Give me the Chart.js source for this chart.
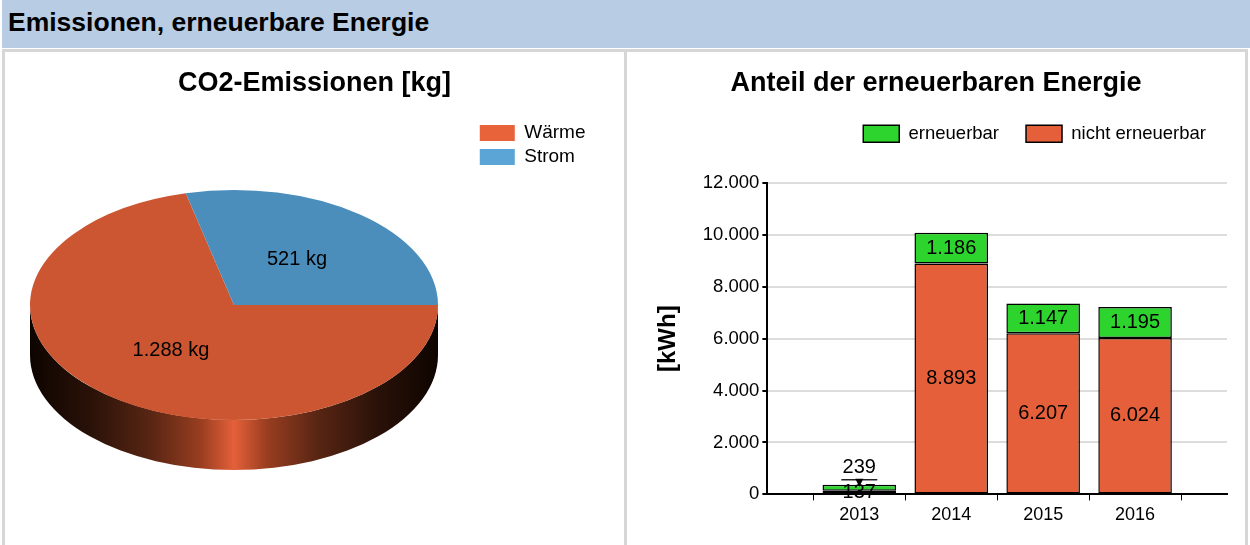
<!DOCTYPE html>
<html lang="de">
<head>
<meta charset="utf-8">
<title>Emissionen, erneuerbare Energie</title>
<script src="https://cdn.jsdelivr.net/npm/chart.js@4.4.1/dist/chart.umd.min.js"></script>
<style>
  body {
    margin: 0;
    width: 1250px;
    height: 545px;
    overflow: hidden;
    background: #fff;
    position: relative;
    font-family: "Liberation Sans", Arial, sans-serif;
  }
  #header {
    position: absolute;
    left: 2px;
    top: 0;
    width: 1248px;
    height: 48px;
    background: #b8cce4;
  }
  #header h1 {
    margin: 0;
    padding-left: 6px;
    font-size: 26.5px;
    font-weight: bold;
    line-height: 45px;
    color: #000;
  }
  #panels {
    position: absolute;
    left: 2px;
    top: 49px;
    width: 1246px;
    height: 520px;
    border: 3px solid #d6d6d6;
    box-sizing: border-box;
  }
  #divider {
    position: absolute;
    left: 624px;
    top: 49px;
    width: 3px;
    height: 520px;
    background: #d6d6d6;
  }
  canvas {
    position: absolute;
    top: 52px;
  }
  #co2-chart { left: 5px; }
  #energy-chart { left: 627px; }
</style>
</head>
<body>
<div id="header"><h1>Emissionen, erneuerbare Energie</h1></div>
<div id="panels"></div>
<div id="divider"></div>
<canvas id="co2-chart" width="619" height="493"></canvas>
<canvas id="energy-chart" width="618" height="493"></canvas>

<script>
// CO2-Emissionen [kg]
const pieLabels = ['Wärme', 'Strom'];
const pieValues = [1288, 521];
const pieColors = ['#cc5631', '#4b8ebb'];
const pieLegendColors = ['#e8623a', '#5aa4d6'];

// Anteil der erneuerbaren Energie [kWh]
const years = ['2013', '2014', '2015', '2016'];
const nichtErneuerbar = [137, 8893, 6207, 6024];
const erneuerbar = [239, 1186, 1147, 1195];
const yMax = 12000;
const yStep = 2000;

const FONT = '"Liberation Sans", Arial, sans-serif';
Chart.defaults.font.family = FONT;
Chart.defaults.color = '#000';

// 1234 -> "1.234"
function formatDe(v) {
  return String(Math.round(v)).replace(/\B(?=(\d{3})+(?!\d))/g, '.');
}

/**
 * Pseudo-3D pie: squashes the arcs into an ellipse and paints the side wall first
 */
const pie3dTarget = { cx: 229, cy: 253, rx: 204, ry: 115, depth: 50 };

const pie3d = {
  id: 'pie3d',
  beforeDatasetsDraw(chart) {
    const arc = chart.getDatasetMeta(0).data[0];
    if (!arc) return;
    const ctx = chart.ctx;
    const t = pie3dTarget;

    const g = ctx.createLinearGradient(t.cx - t.rx, 0, t.cx + t.rx, 0);
    g.addColorStop(0, '#0e0400');
    g.addColorStop(0.15, '#2a1208');
    g.addColorStop(0.3, '#5a2614');
    g.addColorStop(0.42, '#9a3e20');
    g.addColorStop(0.5, '#e4603a');
    g.addColorStop(0.58, '#9a3e20');
    g.addColorStop(0.7, '#5a2614');
    g.addColorStop(0.85, '#2a1208');
    g.addColorStop(1, '#0e0400');

    ctx.save();
    ctx.beginPath();
    ctx.moveTo(t.cx - t.rx, t.cy);
    ctx.ellipse(t.cx, t.cy + t.depth, t.rx, t.ry, 0, Math.PI, 0, true);
    ctx.lineTo(t.cx + t.rx, t.cy);
    ctx.ellipse(t.cx, t.cy, t.rx, t.ry, 0, 0, Math.PI, false);
    ctx.closePath();
    ctx.fillStyle = g;
    ctx.fill();
    ctx.restore();

    // squash the circle into the top face
    ctx.save();
    ctx.translate(t.cx, t.cy);
    ctx.scale(t.rx / arc.outerRadius, t.ry / arc.outerRadius);
    ctx.translate(-arc.x, -arc.y);
  },
  afterDatasetsDraw(chart) {
    const ctx = chart.ctx;
    ctx.restore();

    const t = pie3dTarget;
    const meta = chart.getDatasetMeta(0);
    ctx.save();
    ctx.font = '20px ' + FONT;
    ctx.fillStyle = '#000';
    ctx.textAlign = 'center';
    ctx.textBaseline = 'middle';
    meta.data.forEach((arc, i) => {
      const p = arc.tooltipPosition();
      const x = t.cx + (p.x - arc.x) * t.rx / arc.outerRadius;
      const y = t.cy + (p.y - arc.y) * t.ry / arc.outerRadius;
      ctx.fillText(formatDe(pieValues[i]) + ' kg', x, y);
    });
    ctx.restore();
  }
};

/**
 * Value labels inside the stacked bars (small top segments get a label with arrow above)
 */
const barValueLabels = {
  id: 'barValueLabels',
  afterDatasetsDraw(chart) {
    const ctx = chart.ctx;
    const last = chart.data.datasets.length - 1;
    ctx.save();
    ctx.font = '20px ' + FONT;
    ctx.fillStyle = '#000';
    ctx.strokeStyle = '#222';
    ctx.textAlign = 'center';
    ctx.textBaseline = 'middle';
    chart.data.datasets.forEach((ds, di) => {
      chart.getDatasetMeta(di).data.forEach((bar, i) => {
        const v = ds.data[i];
        if (v == null) return;
        const h = Math.abs(bar.base - bar.y);
        const text = formatDe(v);
        if (h >= 22 || di !== last) {
          ctx.fillText(text, bar.x, (bar.y + bar.base) / 2);
          return;
        }
        const ly = bar.y - 5;
        ctx.fillText(text, bar.x, ly - 12);
        ctx.lineWidth = 1.5;
        ctx.beginPath();
        ctx.moveTo(bar.x - 18, ly);
        ctx.lineTo(bar.x + 18, ly);
        ctx.stroke();
        ctx.beginPath();
        ctx.moveTo(bar.x - 4, ly - 1);
        ctx.lineTo(bar.x + 4, ly - 1);
        ctx.lineTo(bar.x, ly + 7);
        ctx.closePath();
        ctx.fill();
      });
    });
    ctx.restore();
  }
};

// extra space between legend and plot area, legend nudged to the right
const legendGap = {
  id: 'legendGap',
  beforeInit(chart) {
    const fit = chart.legend.fit;
    chart.legend.fit = function() {
      fit.bind(chart.legend)();
      this.height += 30;
    };
  },
  afterLayout(chart) {
    chart.legend.left += 6;
    chart.legend.right += 6;
  }
};

/**
 * CO2 pie chart
 */
function initCo2Chart() {
  const ctx = document.getElementById('co2-chart');
  new Chart(ctx, {
    type: 'pie',
    data: {
      labels: pieLabels,
      datasets: [{
        data: pieValues,
        backgroundColor: pieColors,
        borderWidth: 0
      }]
    },
    options: {
      responsive: false,
      animation: false,
      devicePixelRatio: 1,
      rotation: 90,
      layout: { padding: { left: 28.5, right: 28.5 } },
      plugins: {
        title: {
          display: true,
          text: 'CO2-Emissionen [kg]',
          color: '#000',
          font: { size: 27, weight: 'bold' },
          padding: { top: 15, bottom: 19 }
        },
        legend: {
          position: 'right',
          align: 'start',
          fullSize: false,
          labels: {
            boxWidth: 35,
            boxHeight: 16,
            padding: 5,
            color: '#000',
            font: { size: 19 },
            generateLabels: () => pieLabels.map((text, i) => ({
              text: text,
              fillStyle: pieLegendColors[i],
              strokeStyle: pieLegendColors[i],
              lineWidth: 0,
              hidden: false,
              index: i
            }))
          }
        },
        tooltip: { enabled: false }
      }
    },
    plugins: [pie3d]
  });
}

/**
 * Renewable energy stacked bar chart
 */
function initEnergyChart() {
  const ctx = document.getElementById('energy-chart');
  const labels = [''].concat(years, ['']);
  const pad = (arr) => [null].concat(arr, [null]);

  new Chart(ctx, {
    type: 'bar',
    data: {
      labels: labels,
      datasets: [
        {
          label: 'nicht erneuerbar',
          data: pad(nichtErneuerbar),
          backgroundColor: '#e5603a',
          borderColor: '#000',
          borderWidth: 1.5,
          borderSkipped: false,
          barPercentage: 0.8,
          categoryPercentage: 1
        },
        {
          label: 'erneuerbar',
          data: pad(erneuerbar),
          backgroundColor: '#2dd42d',
          borderColor: '#000',
          borderWidth: 1.5,
          borderSkipped: false,
          barPercentage: 0.8,
          categoryPercentage: 1
        }
      ]
    },
    options: {
      responsive: false,
      animation: false,
      devicePixelRatio: 1,
      layout: { padding: { left: 18, right: 18, top: 0, bottom: 15 } },
      plugins: {
        title: {
          display: true,
          text: 'Anteil der erneuerbaren Energie',
          color: '#000',
          font: { size: 27, weight: 'bold' },
          padding: { top: 15, bottom: -2 }
        },
        legend: {
          position: 'top',
          align: 'end',
          reverse: true,
          labels: {
            boxWidth: 36,
            boxHeight: 17,
            padding: 27,
            color: '#000',
            font: { size: 18.5 }
          }
        },
        tooltip: { enabled: false }
      },
      scales: {
        x: {
          stacked: true,
          offset: false,
          grid: { drawOnChartArea: false, tickColor: '#000', tickLength: 6 },
          border: { color: '#000', width: 2 },
          ticks: { color: '#000', font: { size: 18 }, padding: 4, autoSkip: false, maxRotation: 0 }
        },
        y: {
          stacked: true,
          min: 0,
          max: yMax,
          grid: { color: '#dcdcdc', lineWidth: 2, tickColor: '#000', tickLength: 5 },
          border: { color: '#000', width: 2 },
          ticks: { stepSize: yStep, color: '#000', font: { size: 18.5 }, padding: 3, callback: (v) => formatDe(v) },
          title: {
            display: true,
            text: '[kWh]',
            color: '#000',
            font: { size: 24, weight: 'bold' },
            padding: { top: 9, bottom: 17 }
          }
        }
      }
    },
    plugins: [barValueLabels, legendGap]
  });
}

initCo2Chart();
initEnergyChart();
</script>
</body>
</html>
